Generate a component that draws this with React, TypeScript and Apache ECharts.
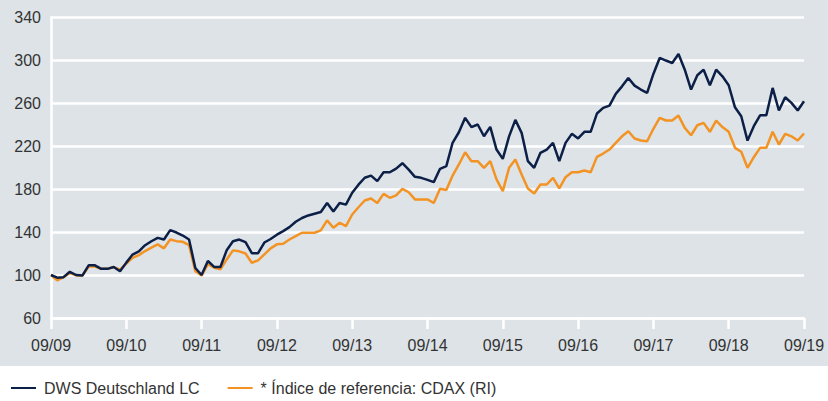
import React, { useEffect, useRef } from "react";
import * as echarts from "echarts";

const yearLabels = ["09/09", "09/10", "09/11", "09/12", "09/13", "09/14", "09/15", "09/16", "09/17", "09/18", "09/19"];

const seriesNames = ["DWS Deutschland LC", "* Índice de referencia: CDAX (RI)"];

// monthly values, 09/2009 .. 09/2019
const dws = [
  100, 97.5, 98, 103, 100, 99.5, 109, 109, 105.7, 105.7,
  107.5, 103.5, 111.5, 119, 122, 127.7, 131.4, 134.5, 133, 141.7,
  139.5, 136.7, 133, 106.5, 100, 113, 107.5, 107.5, 123, 131.4,
  133, 130.5, 120.3, 120.3, 130.2, 133.5, 137.5, 140.8, 144.5, 149.5,
  153, 155.4, 157, 158.6, 167, 159, 167, 165.5, 176.5, 184,
  190.5, 192.5, 187.3, 195.6, 195.6, 199, 204, 198, 191.3, 190.4,
  188.5, 186.4, 198.8, 201.3, 223, 232.8, 246.2, 237.6, 240, 229.1,
  237.8, 216.7, 208, 229, 244.3, 232.2, 205.9, 199.7, 213.7, 216.7,
  222.9, 205.9, 222.9, 231.3, 227, 233.2, 233.2, 250.2, 255.5, 257.6,
  268.5, 275.5, 283.3, 276.2, 272.5, 269.4, 287, 301.9, 299.5, 297.2,
  305.6, 291, 272.5, 285.8, 291, 276.5, 291, 284.8, 276.5, 256,
  247.7, 225, 238.4, 248.6, 248.6, 274, 253, 265.3, 260.1, 253,
  261.6,
];

const cdax = [
  100, 95, 98, 102, 99.6, 99.6, 107.9, 107.9, 105.7, 105.7,
  107.4, 104.9, 110.5, 116, 118.5, 122.3, 125.4, 128.5, 124.8, 133,
  131.5, 130.9, 127.8, 103.6, 99.5, 110, 106.8, 105.2, 114.5, 122.9,
  122, 120, 111.4, 113.6, 119.2, 124.8, 128.5, 129.1, 133, 136.2,
  139.3, 139.3, 139.3, 141.5, 150.8, 144, 148.6, 145.5, 156.3, 163,
  169.3, 171.2, 167, 175.5, 171.8, 174, 180.2, 177, 170.3, 170.3,
  170.3, 167, 180.2, 179, 192.5, 202.8, 214.2, 205.9, 205.9, 199.7,
  205.9, 188.9, 178, 199.7, 207.4, 193.5, 180.5, 175.8, 184.2, 184.2,
  190.4, 180.5, 191, 195.6, 195.6, 197.2, 195.6, 209.9, 213, 216.7,
  222.9, 229, 233.7, 227, 225.1, 224.4, 236, 246.2, 243.7, 243.7,
  248.3, 236.9, 230, 239.3, 241.5, 233.2, 243.7, 237.6, 233.2, 218.3,
  214.6, 199.7, 209.6, 218.3, 218.3, 233.2, 221.4, 231.3, 229, 225.1,
  231.6,
];

const NAVY = "#0c1f47";
const ORANGE = "#f39323";
const BG = "#dde3e7";
const TEXT = "#333333";
const FONT = "'Liberation Sans', Arial, sans-serif";

export default function App() {
  const ref = useRef<HTMLDivElement>(null);

  useEffect(() => {
    document.body.style.margin = "0";
    if (!ref.current) return;
    const chart = echarts.init(ref.current, undefined, { renderer: "svg" });
    chart.setOption({
      animation: false,
      backgroundColor: "transparent",
      textStyle: { fontFamily: FONT },
      grid: { left: 51, right: 24, top: 17, bottom: 83, containLabel: false },
      legend: {
        data: seriesNames,
        left: 6,
        top: 375,
        icon: "rect",
        itemWidth: 25,
        itemHeight: 2,
        itemGap: 28,
        textStyle: { fontSize: 16, color: TEXT, fontFamily: FONT, padding: [0, 0, 0, 3] },
        selectedMode: false,
      },
      xAxis: {
        type: "value",
        min: 0,
        max: 120,
        interval: 12,
        axisLine: { show: true, lineStyle: { color: "#ffffff", width: 2.5 } },
        axisTick: { show: true, length: 11, lineStyle: { color: "#ffffff", width: 2.5 } },
        splitLine: { show: false },
        axisLabel: {
          color: TEXT,
          fontSize: 16,
          fontFamily: FONT,
          margin: 19,
          formatter: (v: number) => yearLabels[Math.round(v / 12)] ?? "",
        },
      },
      yAxis: {
        type: "value",
        min: 60,
        max: 340,
        interval: 40,
        axisLine: { show: true, lineStyle: { color: "#ffffff", width: 2.5 } },
        axisTick: { show: false },
        splitLine: { show: true, lineStyle: { color: "#ffffff", width: 2.5 } },
        axisLabel: { color: TEXT, fontSize: 16, fontFamily: FONT, margin: 10 },
      },
      series: [
        {
          name: seriesNames[0],
          type: "line",
          data: dws.map((v, i) => [i, v]),
          showSymbol: false,
          symbol: "none",
          z: 4,
          lineStyle: { color: NAVY, width: 2.5 },
          itemStyle: { color: NAVY },
        },
        {
          name: seriesNames[1],
          type: "line",
          data: cdax.map((v, i) => [i, v]),
          showSymbol: false,
          symbol: "none",
          z: 3,
          lineStyle: { color: ORANGE, width: 2.5 },
          itemStyle: { color: ORANGE },
        },
      ],
    });
    return () => chart.dispose();
  }, []);

  return (
    <div style={{ position: "relative", width: 828, height: 401, background: "#ffffff" }}>
      <div style={{ position: "absolute", left: 0, top: 0, width: 828, height: 366, background: BG }} />
      <div ref={ref} style={{ position: "absolute", left: 0, top: 0, width: 828, height: 401 }} />
    </div>
  );
}
